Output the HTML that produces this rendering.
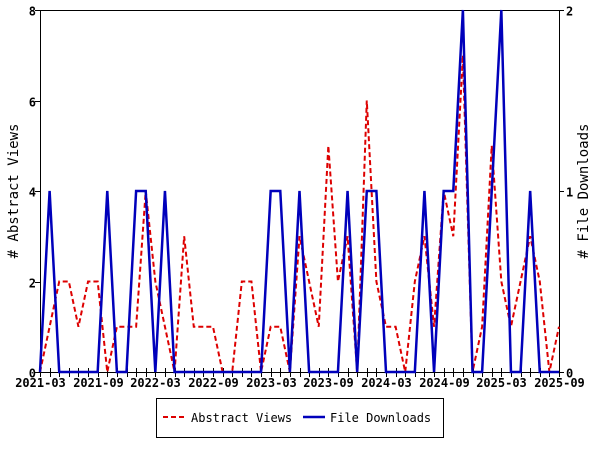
<!DOCTYPE html>
<html><head><style>body{margin:0;background:#fff}svg{display:block}text{font-family:"DejaVu Sans Mono","Liberation Mono",monospace;font-weight:bold;font-size:12px;fill:#000}</style></head>
<body>
<svg id="s" width="600" height="450" xmlns="http://www.w3.org/2000/svg">
<rect width="600" height="450" fill="#fff"/>
<g id="ax" stroke="#000" stroke-width="1" fill="none"></g>
<g id="lab"></g>
<polyline id="red" fill="none" stroke="#dd0000" stroke-width="2" stroke-dasharray="5,3"/>
<polyline id="blue" fill="none" stroke="#0000bb" stroke-width="2.5"/>
<text x="18" y="191" text-anchor="middle" transform="rotate(-90 18 191)" style="font-size:14px;font-weight:normal">&#35; Abstract Views</text>
<text x="588" y="191" text-anchor="middle" transform="rotate(-90 588 191)" style="font-size:14px;font-weight:normal"># File Downloads</text>
<rect x="156.5" y="398.5" width="287" height="39" fill="none" stroke="#000"/>
<line x1="163" y1="417" x2="184" y2="417" stroke="#dd0000" stroke-width="2" stroke-dasharray="5,3"/>
<text x="191" y="422" style="font-weight:normal">Abstract Views</text>
<line x1="303" y1="417" x2="325" y2="417" stroke="#0000bb" stroke-width="2.5"/>
<text x="330" y="422" style="font-weight:normal">File Downloads</text>
</svg>
<script>
const ns="http://www.w3.org/2000/svg";
const X0=40,X1=559,Y0=372,Y1=10,N=54;
const xs=i=>X0+(X1-X0)*i/N;
const yl=v=>Y0-(Y0-Y1)*v/8, yr=v=>Y0-(Y0-Y1)*v/2;
const red=[0,1,2,2,1,2,2,0,1,1,1,4,2,1,0,3,1,1,1,0,0,2,2,0,1,1,0,3,2,1,5,2,3,0,6,2,1,1,0,2,3,1,4,3,7,0,1,5,2,1,2,3,2,0,1];
const blue=[0,1,0,0,0,0,0,1,0,0,1,1,0,1,0,0,0,0,0,0,0,0,0,0,1,1,0,1,0,0,0,0,1,0,1,1,0,0,0,0,1,0,1,1,2,0,0,1,2,0,0,1,0,0,0];
document.getElementById('red').setAttribute('points',red.map((v,i)=>xs(i)+','+yl(v)).join(' '));
document.getElementById('blue').setAttribute('points',blue.map((v,i)=>xs(i)+','+yr(v)).join(' '));
const ax=document.getElementById('ax'),lab=document.getElementById('lab');
function L(a,b,c,d){const l=document.createElementNS(ns,'line');l.setAttribute('x1',a);l.setAttribute('y1',b);l.setAttribute('x2',c);l.setAttribute('y2',d);ax.appendChild(l);}
function T(x,y,s,anc){const t=document.createElementNS(ns,'text');t.setAttribute('x',x);t.setAttribute('y',y);t.setAttribute('text-anchor',anc);t.textContent=s;lab.appendChild(t);}
L(40.5,10.5,559.5,10.5);L(40.5,372.5,559.5,372.5);L(40.5,10,40.5,373);L(559.5,10,559.5,373);
for(let v=0;v<=8;v+=2){const y=Math.round(yl(v))+.5;L(35,y,40,y);T(36,y+5,String(v),'end');}
[0,1,2].forEach(v=>{const y=Math.round(yr(v))+.5;L(559,y,564,y);T(566,y+5,String(v),'start');});
const labs=['2021-03','2021-09','2022-03','2022-09','2023-03','2023-09','2024-03','2024-09','2025-03','2025-09'];
for(let i=0;i<=N;i++){const x=Math.round(xs(i))+.5;L(x,368,x,377);if(i%6==0)T(x,387,labs[i/6],'middle');}
</script>
</body></html>
